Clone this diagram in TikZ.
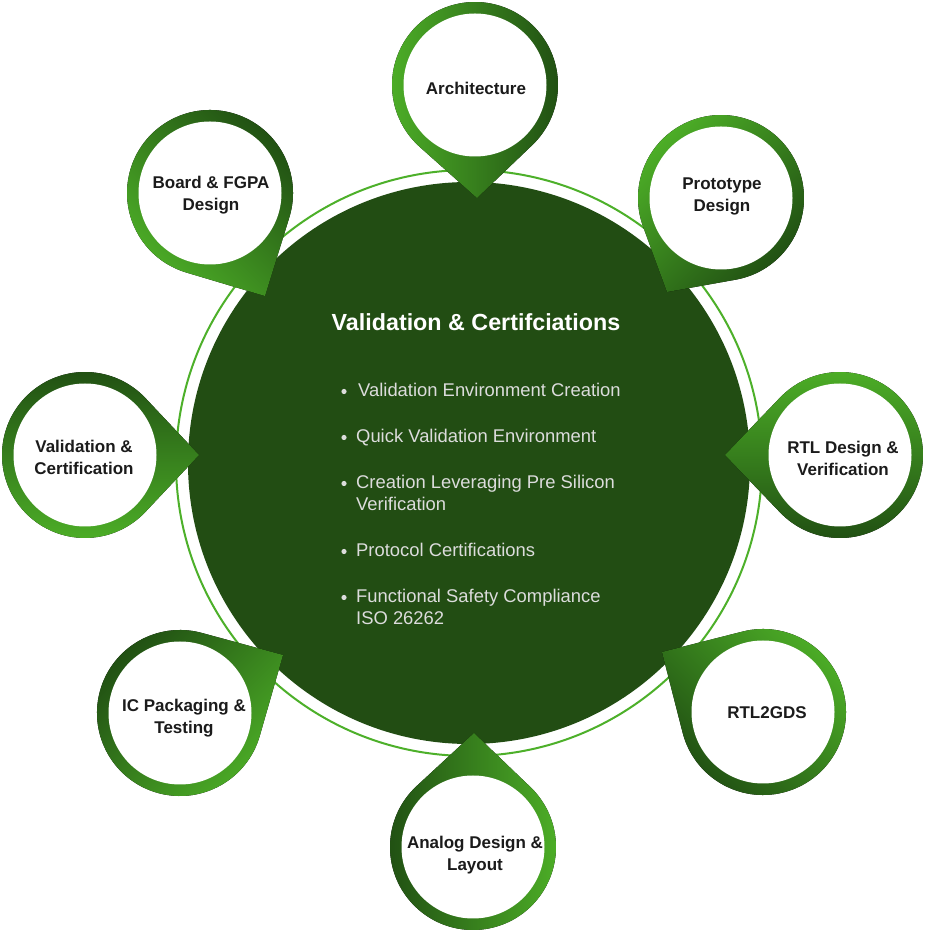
\documentclass[tikz,border=0pt]{standalone}
\usepackage{fontspec}
\setmainfont{Liberation Sans}
\usetikzlibrary{calc}
\definecolor{pinlight}{HTML}{4DAF27}
\definecolor{pindark}{HTML}{1F4C12}
\definecolor{ringgreen}{HTML}{4DB02A}
\definecolor{hubgreen}{HTML}{224D13}
\definecolor{labelink}{HTML}{1B1B1B}
\definecolor{bulletink}{HTML}{DCDCDC}
\newcommand{\pinshape}[5]{%
  \pgfmathsetmacro\pdd{veclen(#3-#1,#4-#2)}%
  \pgfmathsetmacro\pph{atan2(#4-#2,#3-#1)}%
  \pgfmathsetmacro\pth{acos(83/\pdd)}%
  \pgfmathsetmacro\pst{\pph+\pth}%
  \pgfmathsetmacro\pen{\pph-\pth+360}%
  \fill[top color=pinlight,bottom color=pindark,shading angle=#5]
    (#3,#4) -- ($(#1,#2)+(\pst:83pt)$) arc[start angle=\pst,end angle=\pen,radius=83pt] -- cycle;
  \fill[white] (#1,#2) circle[radius=71.5pt];
}
\tikzset{
  pinlabel/.style={text=labelink,font=\fontsize{17}{22}\selectfont\bfseries,align=center,inner sep=0pt},
  bullettext/.style={text=bulletink,font=\fontsize{18.4}{22}\selectfont,inner sep=0pt,anchor=base west},
  bulletdot/.style={fill=bulletink,draw=none}
}
\begin{document}
\begin{tikzpicture}[x=1pt,y=1pt]
\useasboundingbox (0,0) rectangle (924,932);
\fill[white] (0,0) rectangle (924,932);
% ring and hub
\draw[ringgreen,line width=2pt] (469,469) circle[radius=293pt];
\fill[hubgreen] (469,469) circle[radius=281pt];
% pins
\pinshape{475}{847}{477}{734}{90}
\pinshape{210}{739}{265}{636}{135}
\pinshape{721}{734}{667}{640}{45}
\pinshape{85}{477}{199}{477}{180}
\pinshape{840}{477}{725}{477}{0}
\pinshape{180}{219}{283}{277}{225}
\pinshape{763}{220}{662}{280}{-45}
\pinshape{473}{85}{474}{199}{-90}
% labels
\node[pinlabel] (arch) at (476,844) {Architecture};
\node[pinlabel] (board) at (211,737) {Board \& FGPA\\Design};
\node[pinlabel] (proto) at (722,736) {Prototype\\Design};
\node[pinlabel] (valcert) at (84,475) {Validation \&\\Certification};
\node[pinlabel] (rtl) at (843,474) {RTL Design \&\\Verification};
\node[pinlabel] (ic) at (184,214) {IC Packaging \&\\Testing};
\node[pinlabel] (gds) at (767,219) {RTL2GDS};
\node[pinlabel] (analog) at (475,77) {Analog Design \&\\Layout};
% hub content
\node[text=white,font=\fontsize{23.3}{26}\selectfont\bfseries,inner sep=0pt] (title) at (476,610) {Validation \& Certifciations};
\fill[bulletdot] (344,540.5) circle[radius=2.6pt];
\node[bullettext] (b1) at (358,535.5) {Validation Environment Creation};
\fill[bulletdot] (344,494.5) circle[radius=2.6pt];
\node[bullettext] (b2) at (356,489.5) {Quick Validation Environment};
\fill[bulletdot] (344,448.5) circle[radius=2.6pt];
\node[bullettext] (b3) at (356,443.5) {Creation Leveraging Pre Silicon};
\node[bullettext] (b3b) at (356,421.5) {Verification};
\fill[bulletdot] (344,380.5) circle[radius=2.6pt];
\node[bullettext] (b4) at (356,375.5) {Protocol Certifications};
\fill[bulletdot] (344,334.5) circle[radius=2.6pt];
\node[bullettext] (b5) at (356,329.5) {Functional Safety Compliance};
\node[bullettext] (b5b) at (356,307.5) {ISO 26262};
\end{tikzpicture}
\end{document}
